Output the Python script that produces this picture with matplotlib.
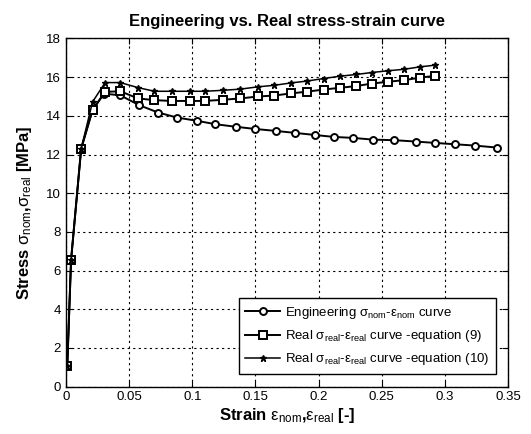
import matplotlib
matplotlib.use("Agg")
import matplotlib.pyplot as plt

plt.rcParams['font.family'] = ['Liberation Sans', 'DejaVu Sans']
plt.rcParams['mathtext.fontset'] = 'custom'
plt.rcParams['mathtext.rm'] = 'Liberation Sans'
plt.rcParams['mathtext.it'] = 'Liberation Sans'
plt.rcParams['mathtext.bf'] = 'Liberation Sans:bold'
plt.rcParams['mathtext.default'] = 'it'

eng_x = [0.001, 0.004, 0.012, 0.021, 0.030, 0.043, 0.058, 0.073, 0.088, 0.104, 0.118, 0.135, 0.150,
         0.166, 0.181, 0.197, 0.212, 0.227, 0.243, 0.260, 0.277, 0.292, 0.308, 0.324, 0.341]
eng_y = [1.07, 6.54, 12.3, 14.3, 15.15, 15.06, 14.55, 14.17, 13.91, 13.74, 13.57, 13.43, 13.32,
         13.22, 13.12, 13.01, 12.91, 12.86, 12.77, 12.74, 12.67, 12.60, 12.53, 12.46, 12.36]
real_x = [0.001, 0.004, 0.012, 0.021, 0.031, 0.043, 0.057, 0.070, 0.084, 0.098, 0.110, 0.124, 0.138,
          0.152, 0.165, 0.178, 0.191, 0.204, 0.217, 0.230, 0.242, 0.255, 0.268, 0.280, 0.292]
real9_y = [1.07, 6.54, 12.3, 14.3, 15.24, 15.27, 14.9, 14.81, 14.77, 14.77, 14.77, 14.83, 14.9,
           15.0, 15.05, 15.16, 15.25, 15.36, 15.45, 15.54, 15.67, 15.76, 15.85, 15.97, 16.07]
real10_y = [1.07, 6.54, 12.3, 14.72, 15.72, 15.72, 15.46, 15.27, 15.27, 15.27, 15.27, 15.32, 15.38,
            15.5, 15.58, 15.7, 15.8, 15.93, 16.05, 16.14, 16.24, 16.33, 16.41, 16.53, 16.62]
x_ticks = [0, 0.05, 0.1, 0.15, 0.2, 0.25, 0.3, 0.35]
x_labels = ['0', '0.05', '0.1', '0.15', '0.2', '0.25', '0.3', '0.35']
y_ticks = [0, 2, 4, 6, 8, 10, 12, 14, 16, 18]

fig = plt.figure(figsize=(5.31, 4.34), dpi=100)
ax = fig.add_axes([0.1243, 0.1094, 0.8324, 0.8019])

ax.plot(eng_x, eng_y, color='black', lw=1.4, marker='o', ms=5, mfc='white', mec='black', mew=1.4,
        label=r'Engineering $\sigma_{nom}$-$\varepsilon_{nom}$ curve')
ax.plot(real_x, real9_y, color='black', lw=1.4, marker='s', ms=5.5, mfc='white', mec='black', mew=1.4,
        label=r'Real $\sigma_{real}$-$\varepsilon_{real}$ curve -equation (9)')
ax.plot(real_x, real10_y, color='black', lw=1.1, marker='*', ms=5, mfc='black', mec='black',
        label=r'Real $\sigma_{real}$-$\varepsilon_{real}$ curve -equation (10)')

ax.set_xlim(0, 0.35)
ax.set_ylim(0, 18)
ax.set_xticks(x_ticks)
ax.set_xticklabels(x_labels)
ax.set_yticks(y_ticks)
ax.tick_params(direction='in', top=True, right=True, labelsize=9.5, length=4)
ax.grid(True, color='black', linestyle=(0, (2, 3)), lw=0.8)
for s in ax.spines.values():
    s.set_linewidth(1.0)

ax.set_title('Engineering vs. Real stress-strain curve', fontsize=12, fontweight='bold', pad=9)
ax.set_xlabel(r'Strain $\varepsilon_{nom}$,$\varepsilon_{real}$ [-]', fontsize=12, fontweight='bold', labelpad=2)
ax.set_ylabel(r'Stress $\sigma_{nom}$,$\sigma_{real}$ [MPa]', fontsize=12, fontweight='bold', labelpad=9)

leg = ax.legend(loc='lower right', bbox_to_anchor=(0.988, 0.017), fontsize=9.5, frameon=True,
                fancybox=False, edgecolor='black', framealpha=1, handlelength=2.6, borderpad=0.5,
                labelspacing=0.55, handletextpad=0.4)
leg.get_frame().set_linewidth(1.0)

fig.savefig('out.png', dpi=100)
